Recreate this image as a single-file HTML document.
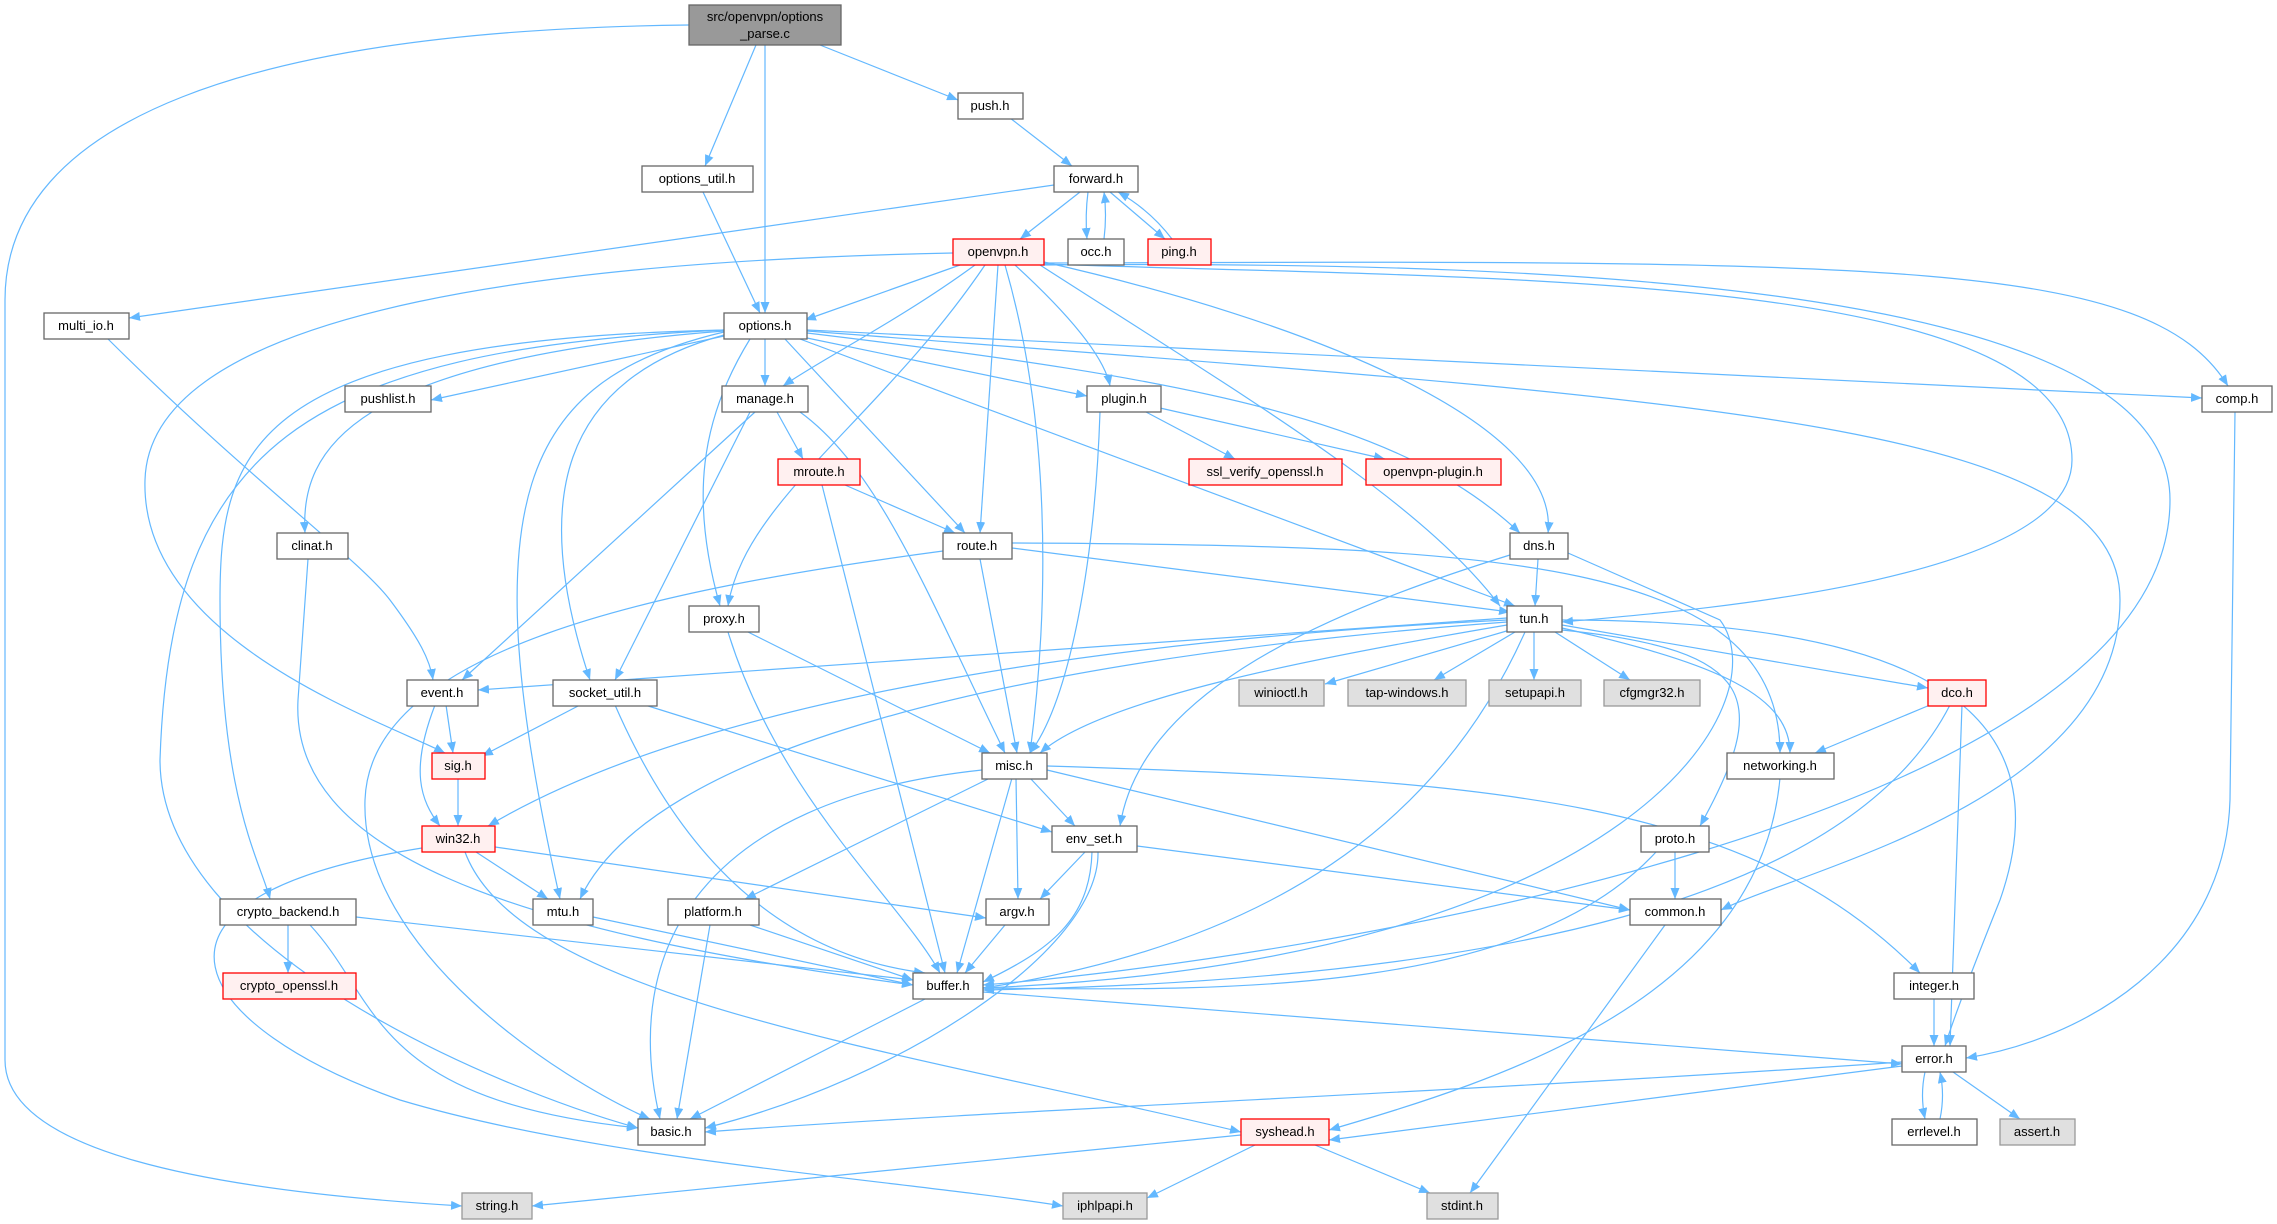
<!DOCTYPE html>
<html><head><meta charset="utf-8"><style>
html,body{margin:0;padding:0;background:#fff;}
svg{display:block;}
text{font-family:"Liberation Sans","DejaVu Sans",sans-serif;font-size:13px;fill:#000;}
</style></head><body>
<svg width="2277" height="1224" viewBox="0 0 2277 1224" xmlns="http://www.w3.org/2000/svg">
<defs>
<marker id="a" markerUnits="userSpaceOnUse" markerWidth="12" markerHeight="9" refX="11" refY="4.5" orient="auto">
<path d="M0,0 L11,4.5 L0,9 z" fill="#63b8ff"/>
</marker>
</defs>
<g fill="none" stroke="#63b8ff" stroke-width="1.2" marker-end="url(#a)">
<path d="M689,25 C250,30 5,120 5,300 L5,1060 C5,1150 200,1190 462,1206"/>
<path d="M756,45 L705,166"/>
<path d="M765,45 L765,313"/>
<path d="M820,45 L958,100"/>
<path d="M1010,118 L1072,166"/>
<path d="M1054,185 L129,318"/>
<path d="M1080,192 L1020,239"/>
<path d="M1088,192 Q1085,215 1087,239"/>
<path d="M1104,239 Q1107,215 1104,192"/>
<path d="M1110,192 L1165,239"/>
<path d="M1172,239 Q1150,210 1118,192"/>
<path d="M703,192 L760,313"/>
<path d="M960,265 L805,320"/>
<path d="M953,253 C600,260 150,300 145,480 C140,640 380,720 445,753"/>
<path d="M975,265 C900,320 820,360 783,386"/>
<path d="M985,265 C880,420 745,500 728,606"/>
<path d="M998,265 L980,533"/>
<path d="M1005,265 C1050,420 1050,600 1030,753"/>
<path d="M1015,265 C1075,320 1105,360 1110,386"/>
<path d="M1044,262 C1300,320 1560,420 1548,533"/>
<path d="M1040,265 C1250,400 1420,500 1500,606"/>
<path d="M1044,264 C1500,280 2072,270 2072,460 C2072,580 1700,610 1562,622"/>
<path d="M1044,265 C1600,260 2170,290 2170,500 C2170,820 1300,960 983,985"/>
<path d="M1044,263 C1900,260 2150,260 2228,386"/>
<path d="M108,339 C250,480 360,560 390,600 C420,640 430,660 433,680"/>
<path d="M724,336 L431,400"/>
<path d="M765,339 L765,386"/>
<path d="M807,338 L1087,396"/>
<path d="M807,330 L2202,398"/>
<path d="M807,333 C1200,380 1400,420 1520,533"/>
<path d="M800,339 L1515,606"/>
<path d="M785,339 L965,533"/>
<path d="M750,339 C700,420 690,500 720,606"/>
<path d="M724,335 C560,380 530,500 590,680"/>
<path d="M724,332 C520,380 470,500 560,899"/>
<path d="M724,330 C300,350 170,450 160,760 C160,950 500,1090 638,1128"/>
<path d="M724,330 C250,340 220,450 220,600 C220,800 260,860 270,899"/>
<path d="M724,331 C350,360 300,450 305,533"/>
<path d="M807,331 C1700,400 2120,420 2120,600 C2120,800 1800,870 1721,910"/>
<path d="M755,412 L462,680"/>
<path d="M750,412 L615,680"/>
<path d="M777,412 L803,459"/>
<path d="M800,412 C880,470 930,600 1005,753"/>
<path d="M845,485 L955,533"/>
<path d="M822,485 L945,973"/>
<path d="M1146,412 L1235,459"/>
<path d="M1160,408 L1385,459"/>
<path d="M1100,412 C1095,560 1070,700 1030,753"/>
<path d="M308,559 L298,700 C290,850 500,930 913,985"/>
<path d="M943,551 C650,590 370,650 365,800 C360,950 560,1080 650,1119"/>
<path d="M1012,548 L1510,612"/>
<path d="M980,559 L1017,753"/>
<path d="M1012,543 C1500,545 1780,560 1780,753"/>
<path d="M1538,559 L1535,606"/>
<path d="M1510,555 C1300,620 1140,700 1120,826"/>
<path d="M1568,553 L1720,620 C1780,700 1640,960 983,988"/>
<path d="M748,632 L990,753"/>
<path d="M728,632 C780,800 900,900 940,973"/>
<path d="M1507,618 L478,690"/>
<path d="M1507,620 C1100,640 700,700 488,826"/>
<path d="M1507,622 C1000,660 650,750 580,899"/>
<path d="M1507,625 C1300,660 1100,700 1040,753"/>
<path d="M1525,632 C1450,800 1300,940 983,988"/>
<path d="M1510,630 L1325,684"/>
<path d="M1515,632 L1434,680"/>
<path d="M1534,632 L1534,680"/>
<path d="M1555,632 L1630,680"/>
<path d="M1562,625 L1928,688"/>
<path d="M1562,628 C1700,660 1790,690 1790,753"/>
<path d="M1562,630 C1760,650 1770,700 1700,826"/>
<path d="M1562,620 C1900,620 2070,700 2000,900 C1960,1000 1950,1030 1945,1046"/>
<path d="M446,705 L453,753"/>
<path d="M435,705 C410,770 420,800 440,826"/>
<path d="M580,705 L482,756"/>
<path d="M645,705 L1052,832"/>
<path d="M615,705 C700,900 820,960 925,973"/>
<path d="M458,778 L458,826"/>
<path d="M982,770 C700,800 620,950 660,1119"/>
<path d="M990,778 L745,899"/>
<path d="M1012,778 L957,973"/>
<path d="M1016,778 L1018,899"/>
<path d="M1030,778 L1075,826"/>
<path d="M1047,770 L1630,910"/>
<path d="M1047,766 C1500,780 1750,800 1920,973"/>
<path d="M476,852 L548,899"/>
<path d="M495,847 L986,918"/>
<path d="M465,852 C520,1000 900,1050 1241,1132"/>
<path d="M422,848 C100,900 200,1030 400,1100 C600,1160 900,1180 1063,1206"/>
<path d="M1085,852 L1040,899"/>
<path d="M1092,852 C1090,920 1050,950 983,982"/>
<path d="M1098,852 C1100,950 900,1080 705,1128"/>
<path d="M1137,846 L1630,910"/>
<path d="M288,925 L288,973"/>
<path d="M356,917 L913,980"/>
<path d="M310,925 C380,1000 370,1100 638,1128"/>
<path d="M593,917 L913,985"/>
<path d="M750,925 L913,980"/>
<path d="M710,925 L677,1119"/>
<path d="M1005,925 L965,973"/>
<path d="M925,999 L690,1119"/>
<path d="M983,992 L1902,1064"/>
<path d="M1930,705 L1815,753"/>
<path d="M1950,705 C1850,900 1500,980 983,990"/>
<path d="M1962,705 L1950,1046"/>
<path d="M1780,778 C1760,1000 1500,1080 1329,1130"/>
<path d="M1675,852 L1675,899"/>
<path d="M1656,852 C1520,1000 1200,990 983,988"/>
<path d="M1665,925 L1470,1193"/>
<path d="M1934,999 L1934,1046"/>
<path d="M1902,1062 C1500,1090 1000,1110 705,1132"/>
<path d="M1902,1066 L1329,1140"/>
<path d="M1953,1072 L2020,1119"/>
<path d="M1925,1072 Q1920,1095 1925,1119"/>
<path d="M1940,1119 Q1945,1095 1940,1072"/>
<path d="M2235,412 L2230,800 C2225,960 2080,1040 1966,1058"/>
<path d="M1241,1135 L532,1206"/>
<path d="M1255,1145 L1147,1198"/>
<path d="M1315,1145 L1430,1193"/>
</g>
<g stroke-width="1.3" text-anchor="middle">
<rect x="689" y="5" width="152" height="40" fill="#999999" stroke="#666"/>
<text x="765" y="21">src/openvpn/options</text><text x="765" y="38">_parse.c</text>
<g fill="#fff" stroke="#666">
<rect x="958" y="93" width="65" height="26"/>
<rect x="642" y="166" width="111" height="26"/>
<rect x="1054" y="166" width="84" height="26"/>
<rect x="1068" y="239" width="56" height="26"/>
<rect x="44" y="313" width="85" height="26"/>
<rect x="724" y="313" width="83" height="26"/>
<rect x="345" y="386" width="86" height="26"/>
<rect x="722" y="386" width="86" height="26"/>
<rect x="1087" y="386" width="74" height="26"/>
<rect x="2202" y="386" width="70" height="26"/>
<rect x="277" y="533" width="71" height="26"/>
<rect x="943" y="533" width="69" height="26"/>
<rect x="1510" y="533" width="58" height="26"/>
<rect x="689" y="606" width="70" height="26"/>
<rect x="1507" y="606" width="55" height="26"/>
<rect x="407" y="680" width="71" height="26"/>
<rect x="553" y="680" width="104" height="26"/>
<rect x="982" y="753" width="65" height="26"/>
<rect x="1727" y="753" width="107" height="26"/>
<rect x="1052" y="826" width="85" height="26"/>
<rect x="1641" y="826" width="68" height="26"/>
<rect x="220" y="899" width="136" height="26"/>
<rect x="533" y="899" width="60" height="26"/>
<rect x="668" y="899" width="91" height="26"/>
<rect x="986" y="899" width="63" height="26"/>
<rect x="1630" y="899" width="91" height="26"/>
<rect x="913" y="973" width="70" height="26"/>
<rect x="1894" y="973" width="80" height="26"/>
<rect x="1902" y="1046" width="64" height="26"/>
<rect x="638" y="1119" width="67" height="26"/>
<rect x="1892" y="1119" width="85" height="26"/>
</g>
<g fill="#fff0f0" stroke="#ff0000">
<rect x="953" y="239" width="91" height="26"/>
<rect x="1148" y="239" width="63" height="26"/>
<rect x="778" y="459" width="82" height="26"/>
<rect x="1189" y="459" width="153" height="26"/>
<rect x="1366" y="459" width="135" height="26"/>
<rect x="1928" y="680" width="58" height="26"/>
<rect x="432" y="753" width="53" height="26"/>
<rect x="422" y="826" width="73" height="26"/>
<rect x="223" y="973" width="133" height="26"/>
<rect x="1241" y="1119" width="88" height="26"/>
</g>
<g fill="#e0e0e0" stroke="#999">
<rect x="1239" y="680" width="85" height="26"/>
<rect x="1348" y="680" width="118" height="26"/>
<rect x="1489" y="680" width="92" height="26"/>
<rect x="1604" y="680" width="96" height="26"/>
<rect x="2000" y="1119" width="75" height="26"/>
<rect x="462" y="1193" width="70" height="26"/>
<rect x="1063" y="1193" width="84" height="26"/>
<rect x="1427" y="1193" width="71" height="26"/>
</g>
<text x="990" y="110">push.h</text>
<text x="697" y="183">options_util.h</text>
<text x="1096" y="183">forward.h</text>
<text x="998" y="256">openvpn.h</text>
<text x="1096" y="256">occ.h</text>
<text x="1179" y="256">ping.h</text>
<text x="86" y="330">multi_io.h</text>
<text x="765" y="330">options.h</text>
<text x="388" y="403">pushlist.h</text>
<text x="765" y="403">manage.h</text>
<text x="1124" y="403">plugin.h</text>
<text x="2237" y="403">comp.h</text>
<text x="819" y="476">mroute.h</text>
<text x="1265" y="476">ssl_verify_openssl.h</text>
<text x="1433" y="476">openvpn-plugin.h</text>
<text x="312" y="550">clinat.h</text>
<text x="977" y="550">route.h</text>
<text x="1539" y="550">dns.h</text>
<text x="724" y="623">proxy.h</text>
<text x="1534" y="623">tun.h</text>
<text x="442" y="697">event.h</text>
<text x="605" y="697">socket_util.h</text>
<text x="1281" y="697">winioctl.h</text>
<text x="1407" y="697">tap-windows.h</text>
<text x="1535" y="697">setupapi.h</text>
<text x="1652" y="697">cfgmgr32.h</text>
<text x="1957" y="697">dco.h</text>
<text x="458" y="770">sig.h</text>
<text x="1014" y="770">misc.h</text>
<text x="1780" y="770">networking.h</text>
<text x="458" y="843">win32.h</text>
<text x="1094" y="843">env_set.h</text>
<text x="1675" y="843">proto.h</text>
<text x="288" y="916">crypto_backend.h</text>
<text x="563" y="916">mtu.h</text>
<text x="713" y="916">platform.h</text>
<text x="1017" y="916">argv.h</text>
<text x="1675" y="916">common.h</text>
<text x="289" y="990">crypto_openssl.h</text>
<text x="948" y="990">buffer.h</text>
<text x="1934" y="990">integer.h</text>
<text x="1934" y="1063">error.h</text>
<text x="671" y="1136">basic.h</text>
<text x="1285" y="1136">syshead.h</text>
<text x="1934" y="1136">errlevel.h</text>
<text x="2037" y="1136">assert.h</text>
<text x="497" y="1210">string.h</text>
<text x="1105" y="1210">iphlpapi.h</text>
<text x="1462" y="1210">stdint.h</text>
</g>
</svg>
</body></html>
